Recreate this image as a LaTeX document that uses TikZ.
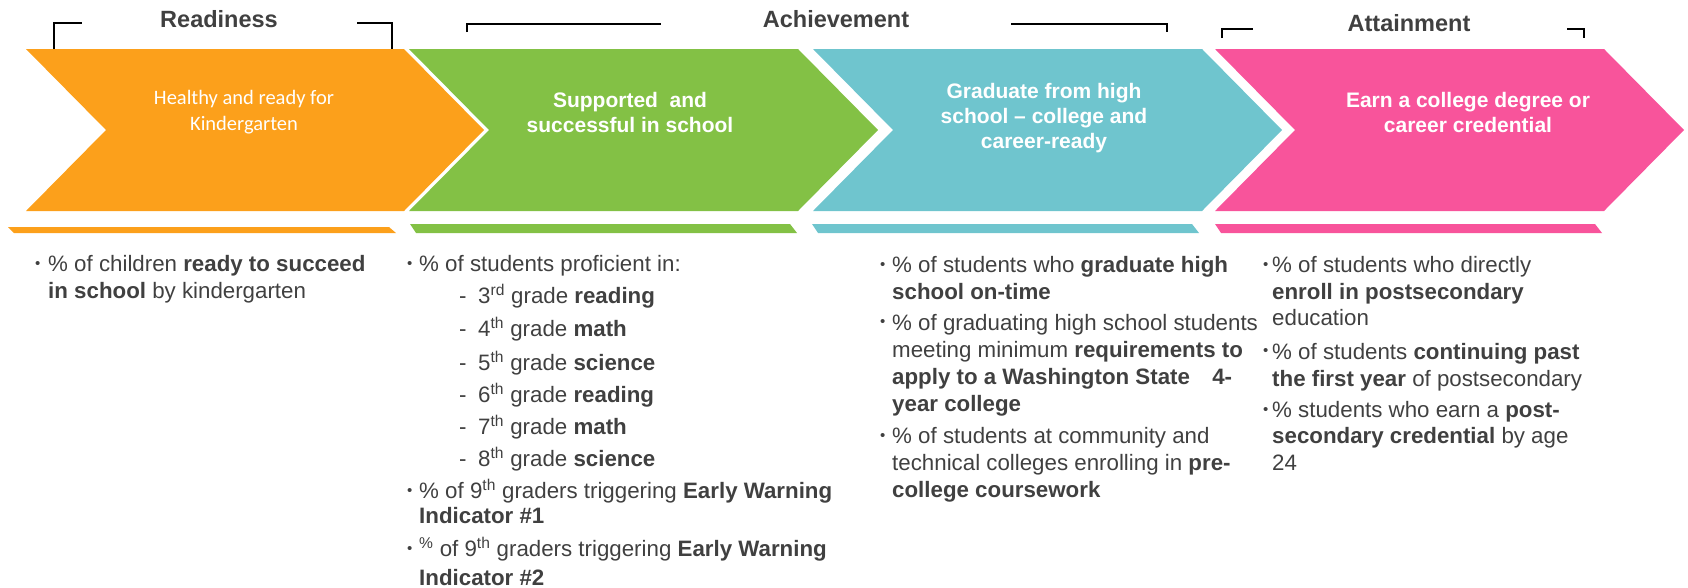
\documentclass[tikz,border=0pt]{standalone}
\usepackage{fontspec}
\setmainfont{Liberation Sans}
\newfontfamily\calibri{Carlito}
\definecolor{txtgray}{HTML}{404040}
\definecolor{rdy}{HTML}{FCA01B}
\definecolor{ach}{HTML}{83C145}
\definecolor{grad}{HTML}{6FC5CE}
\definecolor{att}{HTML}{F8549B}
\tikzset{
  head/.style={font=\fontsize{23.5}{28}\selectfont\bfseries, text=txtgray, inner sep=0pt},
  chevtext/.style={font=\fontsize{21}{25}\selectfont\bfseries, text=white, align=center, inner sep=0pt},
  bullet/.style={anchor=base west, inner sep=0pt, align=left, font=\fontsize{22.3}{27}\selectfont, text=txtgray},
  dot/.style={anchor=base west, inner sep=0pt, yshift=2.5pt, font=\fontsize{15}{15}\selectfont, text=txtgray},
  bracket/.style={line width=2pt, black}
}
\begin{document}
\begin{tikzpicture}[x=1pt,y=-1pt]
  \useasboundingbox (0,0) rectangle (1688,587);
  % chevrons and the thin bars under them
  \foreach \l/\r/\c in {26/404/rdy, 409/798/ach, 813/1202/grad, 1215/1604/att}
    \fill[\c] (\l,49) -- (\r,49) -- (\r+80,130) -- (\r,211) -- (\l,211) -- (\l+80,130) -- cycle;
  \foreach \l/\r/\t/\c in {8/389/227/rdy, 410/790/224/ach, 812/1192/224/grad, 1215/1595/224/att}
    \fill[\c] (\l,\t) -- (\r,\t) -- (\r+7,233) -- (\l+6,233) -- cycle;

  \node[chevtext, font=\fontsize{20.5}{26}\selectfont\calibri] (healthy) at (244,112) {Healthy and ready for\\Kindergarten};
  \node[chevtext] (supported) at (630,112) {Supported\ \ and\\successful in school};
  \node[chevtext] (graduate) at (1044,118) {Graduate from high\\school – college and\\career-ready};
  \node[chevtext] (degree) at (1468,112) {Earn a college degree or\\career credential};

  % headings with their brackets
  \node[head] (readiness) at (219,19) {Readiness};
  \node[head] (achievement) at (836,19) {Achievement};
  \node[head] (attainment) at (1409,23) {Attainment};
  \draw[bracket] (54,49) |- (82,23);
  \draw[bracket] (357,23) -| (392,49);
  \draw[bracket] (467,32) |- (661,24);
  \draw[bracket] (1011,24) -| (1167,32);
  \draw[bracket] (1222,38) |- (1253,29);
  \draw[bracket] (1567,29) -| (1584,38);

  % measures (multi-line nodes sit on the baseline of their last line)
  \foreach \x/\y in {35/271, 407/271, 407/498, 407/556, 880/272, 880/329, 880/443, 1263/272, 1263/358, 1263/417}
    \node[dot] (dot-\x-\y) at (\x,\y) {•};
  \node[bullet] (kinder) at (48,298) {\% of children \textbf{ready to succeed}\\\textbf{in school} by kindergarten};

  \node[bullet] (proficient) at (419,271) {\% of students proficient in:};
  \foreach \y/\n/\s/\w in {303/3/rd/reading, 336/4/th/math, 370/5/th/science, 402/6/th/reading, 434/7/th/math, 466/8/th/science} {
    \node[bullet] (dash\n) at (459,\y) {-};
    \node[bullet] (grade\n) at (478,\y) {\n\textsuperscript{\s} grade \textbf{\w}};
  }
  \node[bullet] (ewi1) at (419,523) {\% of 9\textsuperscript{th} graders triggering \textbf{Early Warning}\\[-2pt]\textbf{Indicator \#1}};
  \node[bullet] (ewi2) at (419,585) {\textsuperscript{\%} of 9\textsuperscript{th} graders triggering \textbf{Early Warning}\\[2pt]\textbf{Indicator \#2}};

  \node[bullet] (ontime) at (892,299) {\% of students who \textbf{graduate high}\\\textbf{school on-time}};
  \node[bullet] (wastate) at (892,411) {\% of graduating high school students\\meeting minimum \textbf{requirements to}\\\textbf{apply to a Washington State\quad 4-}\\\textbf{year college}};
  \node[bullet] (precollege) at (892,497) {\% of students at community and\\technical colleges enrolling in \textbf{pre-}\\\textbf{college coursework}};

  \node[bullet] (enroll) at (1272,325) {\% of students who directly\\\textbf{enroll in postsecondary}\\[-1pt]education};
  \node[bullet] (persist) at (1272,386) {\% of students \textbf{continuing past}\\\textbf{the first year} of postsecondary};
  \node[bullet] (credential) at (1272,470) {\% students who earn a \textbf{post-}\\[-1pt]\textbf{secondary credential} by age\\24};
\end{tikzpicture}
\end{document}
